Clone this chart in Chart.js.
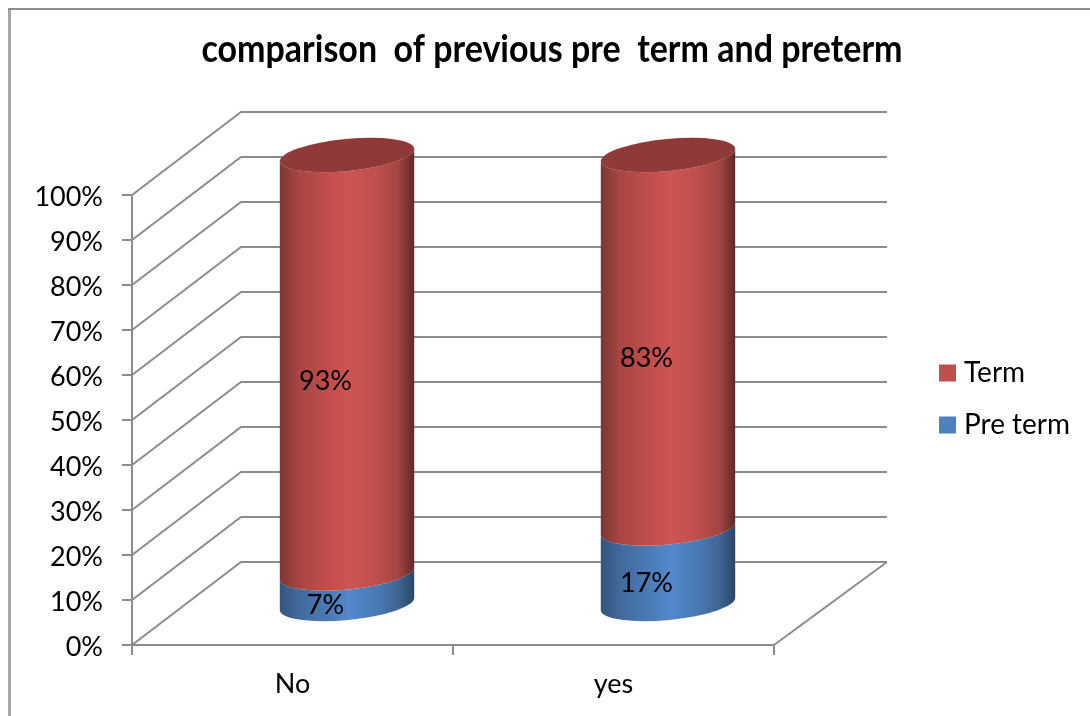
<!DOCTYPE html>
<html>
<head>
<meta charset="utf-8">
<title>comparison of previous pre term and preterm</title>
<script src="https://cdn.jsdelivr.net/npm/chart.js@4"></script>
<style>
  html, body { margin: 0; padding: 0; background: #fff; overflow: hidden; }
  canvas { display: block; }
</style>
</head>
<body>
<canvas id="chart" width="1090" height="716"></canvas>
<script>
// Values
const categories = ['No', 'yes'];
const preTerm = [7, 17];
const term = [93, 83];
const yTicks = [0, 10, 20, 30, 40, 50, 60, 70, 80, 90, 100];
const chartTitle = 'comparison  of previous pre  term and preterm';

const GREY = '#8c8c8c';
const FONT = 'Lato, Carlito, "Open Sans", sans-serif';

// fake 3D: how far the back wall sits from the front plane
const DEPTH_X = 109;
const DEPTH_Y = 83;
const BAR_LIFT = 40;
const TILT = -5.5 * Math.PI / 180;
const CAP_RY = 16;
const TITLE_SQUEEZE = 0.895; // reference title is a condensed face

const shades = {
  term: ['#7a3634', '#a84543', '#c04d4b', '#cd5553', '#bf4e4c', '#a24542', '#5e2827'],
  pre: ['#33547c', '#41699b', '#4a7ab5', '#5488cb', '#4a7ab5', '#3f6593', '#294666']
};
const capColor = '#8e3a38';

function sideGradient(ctx, left, right, colors) {
  const g = ctx.createLinearGradient(left, 0, right, 0);
  const stops = [0, 0.14, 0.35, 0.52, 0.72, 0.88, 1];
  colors.forEach((c, i) => g.addColorStop(stops[i], c));
  return g;
}

function drawCylinder(ctx, cx, yTop, yBottom, rx, colors) {
  ctx.beginPath();
  ctx.ellipse(cx, yBottom, rx, CAP_RY, TILT, 0, Math.PI, false);
  ctx.ellipse(cx, yTop, rx, CAP_RY, TILT, Math.PI, 0, true);
  ctx.closePath();
  ctx.fillStyle = sideGradient(ctx, cx - rx, cx + rx, colors);
  ctx.fill();
}

const depthPlugin = {
  id: 'depth',
  beforeLayout(chart) {
    // legend reserves a fixed strip so the plot ends where the picture does
    const legend = chart.legend;
    if (!legend.fitWrapped) {
      const fit = legend.fit;
      legend.fit = function () {
        fit.call(this);
        this.width = 316;
      };
      legend.fitWrapped = true;
    }
    // squeeze the title around its centre
    const title = chart.titleBlock;
    if (!title.drawWrapped) {
      const draw = title.draw;
      title.draw = function () {
        const ctx = this.ctx;
        const mid = (this.left + this.right) / 2;
        ctx.save();
        ctx.translate(mid, 0);
        ctx.scale(TITLE_SQUEEZE, 1);
        ctx.translate(-mid, 0);
        draw.call(this);
        ctx.restore();
      };
      title.drawWrapped = true;
    }
  },
  afterLayout(chart) {
    const legend = chart.legend;
    legend.left = 921;
    legend.right = 1090;
    legend.top += 41;
    legend.bottom += 41;
  },
  beforeDraw(chart) {
    // chart frame, cut off by the picture on the right and bottom
    const ctx = chart.ctx;
    ctx.save();
    ctx.strokeStyle = '#a6a6a6';
    ctx.lineWidth = 3;
    ctx.beginPath();
    ctx.moveTo(9.5, 716);
    ctx.lineTo(9.5, 9);
    ctx.stroke();
    ctx.strokeStyle = GREY;
    ctx.lineWidth = 2;
    ctx.beginPath();
    ctx.moveTo(8, 9);
    ctx.lineTo(1090, 9);
    ctx.stroke();
    ctx.restore();
  },
  beforeDatasetsDraw(chart) {
    const ctx = chart.ctx;
    const { x, y } = chart.scales;
    ctx.save();
    ctx.strokeStyle = GREY;
    ctx.lineWidth = 2;
    ctx.beginPath();
    yTicks.forEach(v => {
      const py = y.getPixelForValue(v);
      ctx.moveTo(x.left, py);
      ctx.lineTo(x.left + DEPTH_X, py - DEPTH_Y);
      ctx.lineTo(x.right + DEPTH_X + 4, py - DEPTH_Y);
    });
    // right edge of the floor
    ctx.moveTo(x.right, y.bottom);
    ctx.lineTo(x.right + DEPTH_X + 4, y.bottom - DEPTH_Y);
    ctx.stroke();
    ctx.restore();
  },
  beforeDatasetDraw() {
    return false; // cylinders are painted in afterDatasetsDraw
  },
  afterDatasetsDraw(chart) {
    const ctx = chart.ctx;
    ctx.save();
    chart.data.datasets.forEach((ds, i) => {
      chart.getDatasetMeta(i).data.forEach(bar => {
        const cx = bar.x + DEPTH_X / 2;
        const rx = bar.width / 2;
        drawCylinder(ctx, cx, bar.y - BAR_LIFT, bar.base - BAR_LIFT, rx, ds.shades);
        if (i === chart.data.datasets.length - 1) {
          ctx.beginPath();
          ctx.ellipse(cx, bar.y - BAR_LIFT, rx, CAP_RY, TILT, 0, Math.PI * 2);
          ctx.fillStyle = capColor;
          ctx.fill();
        }
      });
    });
    // value labels
    ctx.fillStyle = '#000';
    ctx.font = '27px ' + FONT;
    ctx.textAlign = 'center';
    ctx.textBaseline = 'middle';
    chart.data.datasets.forEach((ds, i) => {
      chart.getDatasetMeta(i).data.forEach((bar, j) => {
        ctx.fillText(ds.data[j] + '%', bar.x + 33, (bar.y + bar.base) / 2 - 23);
      });
    });
    ctx.restore();
  }
};

new Chart(document.getElementById('chart'), {
  type: 'bar',
  data: {
    labels: categories,
    datasets: [
      { label: 'Pre term', data: preTerm, backgroundColor: '#4f81bd', shades: shades.pre },
      { label: 'Term', data: term, backgroundColor: '#c0504d', shades: shades.term }
    ]
  },
  options: {
    responsive: false,
    animation: false,
    events: [],
    barPercentage: 135 / 321,
    categoryPercentage: 1,
    layout: { padding: { left: 14 }, autoPadding: false },
    plugins: {
      tooltip: { enabled: false },
      title: {
        display: true,
        text: chartTitle,
        color: '#000',
        font: { family: FONT, size: 38, weight: 'bold', lineHeight: 1.2 },
        padding: { top: 27.2, bottom: 122.2 }
      },
      legend: {
        position: 'right',
        reverse: true,
        labels: {
          usePointStyle: true,
          pointStyle: 'rect',
          boxWidth: 5,
          boxHeight: 17,
          padding: 24,
          color: '#000',
          font: { family: FONT, size: 28 }
        }
      }
    },
    scales: {
      x: {
        stacked: true,
        afterFit(scale) { scale.height = 71; },
        border: { color: GREY, width: 2 },
        grid: { drawOnChartArea: false, color: GREY, lineWidth: 2, tickLength: 10, offset: true },
        ticks: { color: '#000', padding: 13, font: { family: FONT, size: 27 }, maxRotation: 0 }
      },
      y: {
        stacked: true,
        min: 0,
        max: 100,
        afterFit(scale) { scale.width = 118; },
        border: { color: GREY, width: 2 },
        grid: { drawOnChartArea: false, color: GREY, lineWidth: 2, tickLength: 10 },
        ticks: {
          color: '#000',
          padding: 19,
          stepSize: 10,
          labelOffset: 2,
          font: { family: FONT, size: 27 },
          callback: v => v + '%'
        }
      }
    }
  },
  plugins: [depthPlugin]
});
</script>
</body>
</html>
